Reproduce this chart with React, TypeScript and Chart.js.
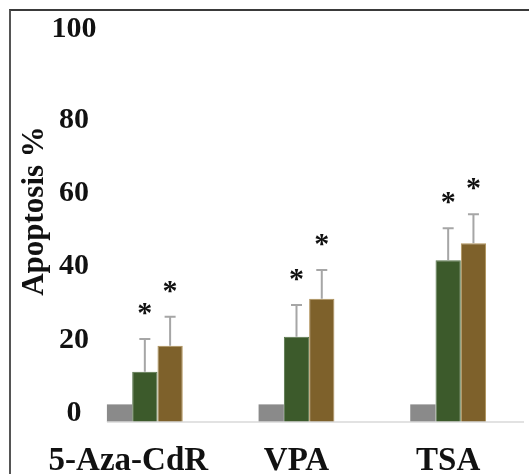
import React, { useEffect, useRef } from "react";
import { Chart, registerables } from "chart.js";

Chart.register(...registerables);

const categories = ["5-Aza-CdR    ", "VPA", "TSA"];
const controlValues = [4.8, 4.8, 4.8];
const dose1Values = [13.7, 23.2, 44.1];
const dose2Values = [20.8, 33.6, 48.7];
const controlErrors = [0, 0, 0];
const dose1Errors = [8.9, 8.7, 8.7];
const dose2Errors = [7.9, 7.8, 7.9];
const controlSig = [false, false, false];
const dose1Sig = [true, true, true];
const dose2Sig = [true, true, true];
const yTicks = [0, 20, 40, 60, 80, 100];

const errorsBySet = [controlErrors, dose1Errors, dose2Errors];
const sigBySet = [controlSig, dose1Sig, dose2Sig];

const SERIF = '"Liberation Serif", "Times New Roman", serif';

const errorPlugin = {
  id: "errorBarsAndStars",
  afterDatasetsDraw(chart: any) {
    const ctx = chart.ctx;
    const yScale = chart.scales.y;
    const area = chart.chartArea;
    ctx.save();
    const first = chart.getDatasetMeta(0).data[0];
    if (first) {
      const y0 = yScale.getPixelForValue(0);
      ctx.strokeStyle = "#d9d9d9";
      ctx.lineWidth = 1.5;
      ctx.beginPath();
      ctx.moveTo(first.x - first.width / 2, y0);
      ctx.lineTo(area.right, y0);
      ctx.stroke();
    }
    chart.data.datasets.forEach((ds: any, i: number) => {
      const meta = chart.getDatasetMeta(i);
      meta.data.forEach((bar: any, j: number) => {
        const v = ds.data[j];
        const e = errorsBySet[i][j];
        const yBar = yScale.getPixelForValue(v);
        const yTop = yScale.getPixelForValue(v + e);
        if (e > 0) {
          ctx.strokeStyle = "#a6a6a6";
          ctx.lineWidth = 2;
          ctx.beginPath();
          ctx.moveTo(bar.x, yBar);
          ctx.lineTo(bar.x, yTop);
          ctx.moveTo(bar.x - 5.5, yTop);
          ctx.lineTo(bar.x + 5.5, yTop);
          ctx.stroke();
        }
        if (sigBySet[i][j]) {
          ctx.fillStyle = "#111";
          ctx.font = `bold 30px ${SERIF}`;
          ctx.textAlign = "center";
          ctx.textBaseline = "alphabetic";
          const m = ctx.measureText("*");
          const asc = m.actualBoundingBoxAscent;
          const desc = m.actualBoundingBoxDescent;
          const cy = yTop - 30;
          ctx.fillText("*", bar.x, cy + (asc - desc) / 2);
        }
      });
    });
    ctx.restore();
  },
};

export default function App() {
  const canvasRef = useRef<HTMLCanvasElement | null>(null);

  useEffect(() => {
    if (!canvasRef.current) return;
    const chart = new Chart(canvasRef.current, {
      type: "bar",
      data: {
        labels: categories,
        datasets: [
          {
            label: "Control",
            data: controlValues,
            backgroundColor: "#8a8a8a",
            borderWidth: 0,
          },
          {
            label: "Dose 1",
            data: dose1Values,
            backgroundColor: "#3c5a2b",
            borderColor: "#56744a",
            borderWidth: 1,
          },
          {
            label: "Dose 2",
            data: dose2Values,
            backgroundColor: "#7e612b",
            borderColor: "#b0925a",
            borderWidth: 1,
          },
        ],
      },
      options: {
        responsive: false,
        animation: false,
        devicePixelRatio: 1,
        layout: { padding: { left: 0, right: 5, top: 0, bottom: 0 } },
        datasets: {
          bar: { categoryPercentage: 0.5, barPercentage: 1 },
        },
        plugins: {
          legend: { display: false },
          tooltip: { enabled: false },
        },
        scales: {
          x: {
            grid: { display: false },
            border: { display: false },
            ticks: {
              color: "#111",
              padding: 12,
              maxRotation: 0,
              autoSkip: false,
              font: { family: SERIF, size: 33, weight: "bold", lineHeight: 1.2 },
            },
            afterFit: (scale: any) => {
              scale.height = 52;
              scale.paddingLeft = 0;
              scale.paddingRight = 0;
            },
          },
          y: {
            min: 0,
            max: 115,
            grid: { display: false, drawTicks: false },
            border: { display: false },
            ticks: {
              stepSize: 20,
              includeBounds: false,
              mirror: true,
              color: "#111",
              padding: -17.5,
              crossAlign: "center",
              font: { family: SERIF, size: 30, weight: "bold", lineHeight: "17px" },
              callback: (value: any) => {
                const v = Number(value);
                if (!yTicks.includes(v)) return "";
                return v === 100 ? [String(v), "", "", ""] : [String(v), ""];
              },
            },
            title: {
              display: true,
              text: "Apoptosis %",
              color: "#111",
              padding: { top: 16, bottom: 0 },
              font: { family: SERIF, size: 31, weight: "bold", lineHeight: 1.2 },
            },
            afterFit: (scale: any) => {
              scale.width = 69;
              scale.paddingTop = 0;
              scale.paddingBottom = 0;
            },
          },
        },
      },
      plugins: [errorPlugin],
    });
    return () => chart.destroy();
  }, []);

  return (
    <div
      style={{
        position: "absolute",
        left: 0,
        top: 0,
        width: 529,
        height: 474,
        overflow: "hidden",
        background: "#fff",
      }}
    >
      <canvas
        ref={canvasRef}
        width={529}
        height={474}
        style={{ position: "absolute", left: 0, top: 0, width: 529, height: 474 }}
      />
      <div
        style={{
          position: "absolute",
          left: 9,
          top: 9,
          width: 600,
          height: 600,
          borderTop: "2px solid #3a3a3a",
          borderLeft: "2px solid #555",
          pointerEvents: "none",
        }}
      />
    </div>
  );
}
